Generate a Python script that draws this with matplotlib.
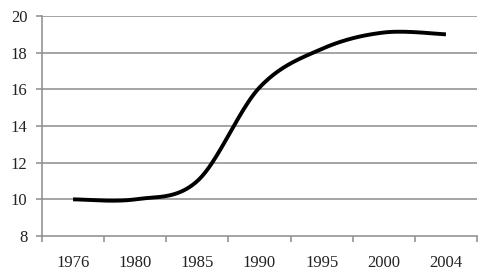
import numpy as np
import matplotlib
matplotlib.use("Agg")
import matplotlib.pyplot as plt

years = ["1976", "1980", "1985", "1990", "1995", "2000", "2004"]
values = [10.0, 10.0, 11.0, 16.1, 18.2, 19.1, 19.0]
y_ticks = [8, 10, 12, 14, 16, 18, 20]

def smooth(xs, ys, n=40):
    # Catmull-Rom style smoothing (like a spreadsheet "smoothed line")
    xs = np.asarray(xs, float); ys = np.asarray(ys, float)
    px = np.concatenate([[xs[0]], xs, [xs[-1]]])
    py = np.concatenate([[ys[0]], ys, [ys[-1]]])
    outx, outy = [], []
    for i in range(1, len(px) - 2):
        p0, p1, p2, p3 = py[i-1], py[i], py[i+1], py[i+2]
        q0, q1, q2, q3 = px[i-1], px[i], px[i+1], px[i+2]
        m1 = (p2 - p0) / 2.0; m2 = (p3 - p1) / 2.0
        k1 = (q2 - q0) / 2.0; k2 = (q3 - q1) / 2.0
        t = np.linspace(0, 1, n)
        h00 = 2*t**3 - 3*t**2 + 1; h10 = t**3 - 2*t**2 + t
        h01 = -2*t**3 + 3*t**2; h11 = t**3 - t**2
        outy.append(h00*p1 + h10*m1 + h01*p2 + h11*m2)
        outx.append(h00*q1 + h10*k1 + h01*q2 + h11*k2)
    return np.concatenate(outx), np.concatenate(outy)

plt.rcParams['font.family'] = ['Liberation Serif', 'DejaVu Serif']

fig = plt.figure(figsize=(4.93, 2.78), dpi=100)
ax = fig.add_axes([42/493, 1-236/278, (477-42)/493, (236-16)/278])

x = np.arange(len(years))
sx, sy = smooth(x, values)
ax.plot(sx, sy, color='black', lw=2.8, solid_capstyle='butt', zorder=3)

ax.set_xlim(-0.5, len(years) - 0.5)
ax.set_ylim(8, 20)
ax.set_yticks(y_ticks)
ax.set_yticklabels([str(v) for v in y_ticks])
ax.set_xticks(x)
ax.set_xticklabels(years)
ax.set_xticks(np.arange(-0.5, len(years) + 0.5, 1), minor=True)

grid_c = '#8c8c8c'
for v in y_ticks[1:]:
    ax.axhline(v, color=grid_c, lw=1.1, zorder=1)

for s in ['top', 'right']:
    ax.spines[s].set_visible(False)
for s in ['left', 'bottom']:
    ax.spines[s].set_color(grid_c)
    ax.spines[s].set_linewidth(1.1)

ax.tick_params(axis='x', which='major', length=0, pad=14, labelsize=12, colors='#222222')
ax.tick_params(axis='x', which='minor', length=4, width=1.1, color=grid_c, direction='out')
ax.tick_params(axis='y', which='major', length=4, width=1.1, color=grid_c, pad=6.5,
               labelsize=12, labelcolor='#222222')

fig.savefig('out.png', dpi=100)
